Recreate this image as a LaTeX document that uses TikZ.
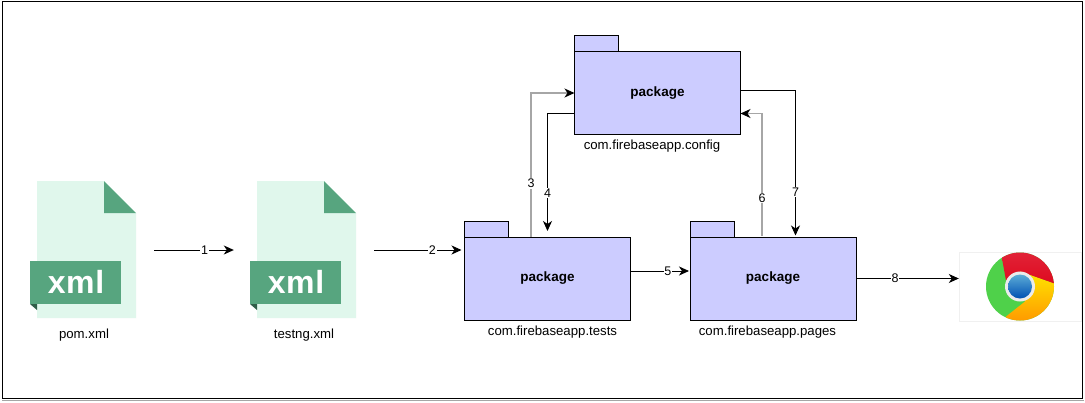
\documentclass[tikz,border=0pt]{standalone}
\usepackage{fontspec}
\setmainfont{Liberation Sans}
\usetikzlibrary{shapes, arrows.meta, positioning}
\definecolor{pkgblue}{HTML}{CCCCFF}
\definecolor{xmlpale}{HTML}{E0F7EC}
\definecolor{xmlgreen}{HTML}{57A57F}
\definecolor{xmldark}{HTML}{2F5E48}
\definecolor{logogreen}{HTML}{4FD14A}
\definecolor{logored}{HTML}{DE0A20}
\definecolor{logoyellow}{HTML}{FFE600}
\tikzstyle{pcell} = [rectangle, draw, line width=0.9pt, fill=pkgblue, minimum width=166pt, minimum height=83pt, inner sep=0pt, outer sep=0pt, font=\bfseries\fontsize{13.5}{16}\selectfont]
\tikzstyle{ptab} = [rectangle, draw, line width=0.9pt, fill=pkgblue, minimum width=44pt, minimum height=16pt, inner sep=0pt, outer sep=0pt, anchor=south west]
\tikzstyle{fcell} = [rectangle, minimum width=140pt, minimum height=140pt, inner sep=0pt]
\tikzstyle{ccell} = [rectangle, draw=black!6, minimum width=122pt, minimum height=69pt, inner sep=0pt]
\tikzstyle{caption} = [font=\fontsize{13.2}{15}\selectfont, inner sep=1pt]
\tikzstyle{num} = [fill=white, inner sep=0.8pt, font=\fontsize{12.5}{14}\selectfont]
\tikzstyle{line} = [draw, line width=0.9pt, -{Stealth[black, length=10pt, width=9pt, inset=3pt]}]
\tikzstyle{gline} = [line, draw=black!35, line width=1.4pt]
\newcommand{\xmlfile}[1]{%
    \fill[xmlpale] ([shift={(-47,-69)}]#1.center) -- ++(67,0) -- ++(32,32) -- ++(0,105) -- ++(-99,0) -- cycle;
    \fill[xmlgreen] ([shift={(20,-69)}]#1.center) -- ++(32,32) -- ++(-32,0) -- cycle;
    \fill[xmldark] ([shift={(-54,54)}]#1.center) -- ++(7,0) -- ++(0,6) -- cycle;
    \fill[xmlgreen] ([shift={(-54,11)}]#1.center) rectangle ++(91,43);
    \node[text=white, font=\bfseries\fontsize{32}{32}\selectfont\addfontfeature{LetterSpace=2}] at ([shift={(-8,32)}]#1.center) {xml};
}
\begin{document}
\begin{tikzpicture}[x=1pt, y=-1pt]
    \useasboundingbox (0,0) rectangle (1085,402);
    \fill[white] (0,0) rectangle (1085,402);
    \draw[black!35, line width=1pt] (2,400) -- (1084,400);
    \draw[line width=1pt] (2,1.5) rectangle (1082,398);

    \node[fcell](pom) at (84,250){};
    \node[fcell](testng) at (304,250){};
    \node[pcell](tests) at (547.5,278.5){package};
    \node[pcell](pages) at (773,278.5){package};
    \node[pcell](config) at (657.5,93){package};
    \node[ccell](chrome) at (1020,286.5){};

    \node[ptab](teststab) at (tests.north west){};
    \node[ptab](pagestab) at (pages.north west){};
    \node[ptab](configtab) at (config.north west){};

    \xmlfile{pom}
    \xmlfile{testng}

    % chrome logo
    \begin{scope}[shift={(chrome.center)}]
        \clip (0,0) circle (34pt);
        \fill[logogreen] (-40,-40) rectangle (40,40);
        \path[top color=logored!88!white, bottom color=logored] (-18,-28) -- (-14,-6) -- (0,-15) -- (34,-3) -- (40,-40) -- (-18,-40) -- cycle;
        \path[top color=logoyellow, middle color=logoyellow, bottom color=orange!90!red] (34,-3) -- (0,-15) -- (5,15) -- (-14,30) -- (-14,60) -- (40,60) -- (40,-3) -- cycle;
        \fill[white!92!black] (0,0) circle (15pt);
        \shade[top color=blue!35!cyan!60!gray!80!white, bottom color=blue!55!cyan!70!black] (0,0) circle (12pt);
    \end{scope}

    \node[caption](pomlabel) at (84,335){pom.xml};
    \node[caption](testnglabel) at (304,335){testng.xml};
    \node[caption](testslabel) at (552.5,332.5){com.firebaseapp.tests};
    \node[caption](pageslabel) at (767.5,332.5){com.firebaseapp.pages};
    \node[caption](configlabel) at (652,146){com.firebaseapp.config};

    \path[line] (pom.east) -- node[num, pos=.633] {1} (testng.west);
    \path[line] (testng.east) -- node[num, pos=.667] {2} ([xshift=-3pt]tests.west |- testng.east);
    \path[gline] ([xshift=-16.5pt]tests.north) |- node[num, pos=.186] {3} (config.west);
    \path[line] ([yshift=-20pt]config.west) -| node[num, pos=.839] {4} ([yshift=6pt]tests.north);
    \path[line] ([yshift=7.5pt]tests.east) -- node[num, pos=.64] {5} ([xshift=-1pt, yshift=7.5pt]pages.west);
    \path[gline] ([xshift=-11pt, yshift=1pt]pages.north) |- node[num, pos=.155] {6} ([yshift=-20.5pt]config.east);
    \path[line] ([yshift=2.5pt]config.east) -| node[num, pos=.85] {7} ([xshift=22.5pt, yshift=1.5pt]pages.north);
    \path[line] (pages.east) -- node[num, pos=.38] {8} (pages.east -| chrome.west);
\end{tikzpicture}
\end{document}
